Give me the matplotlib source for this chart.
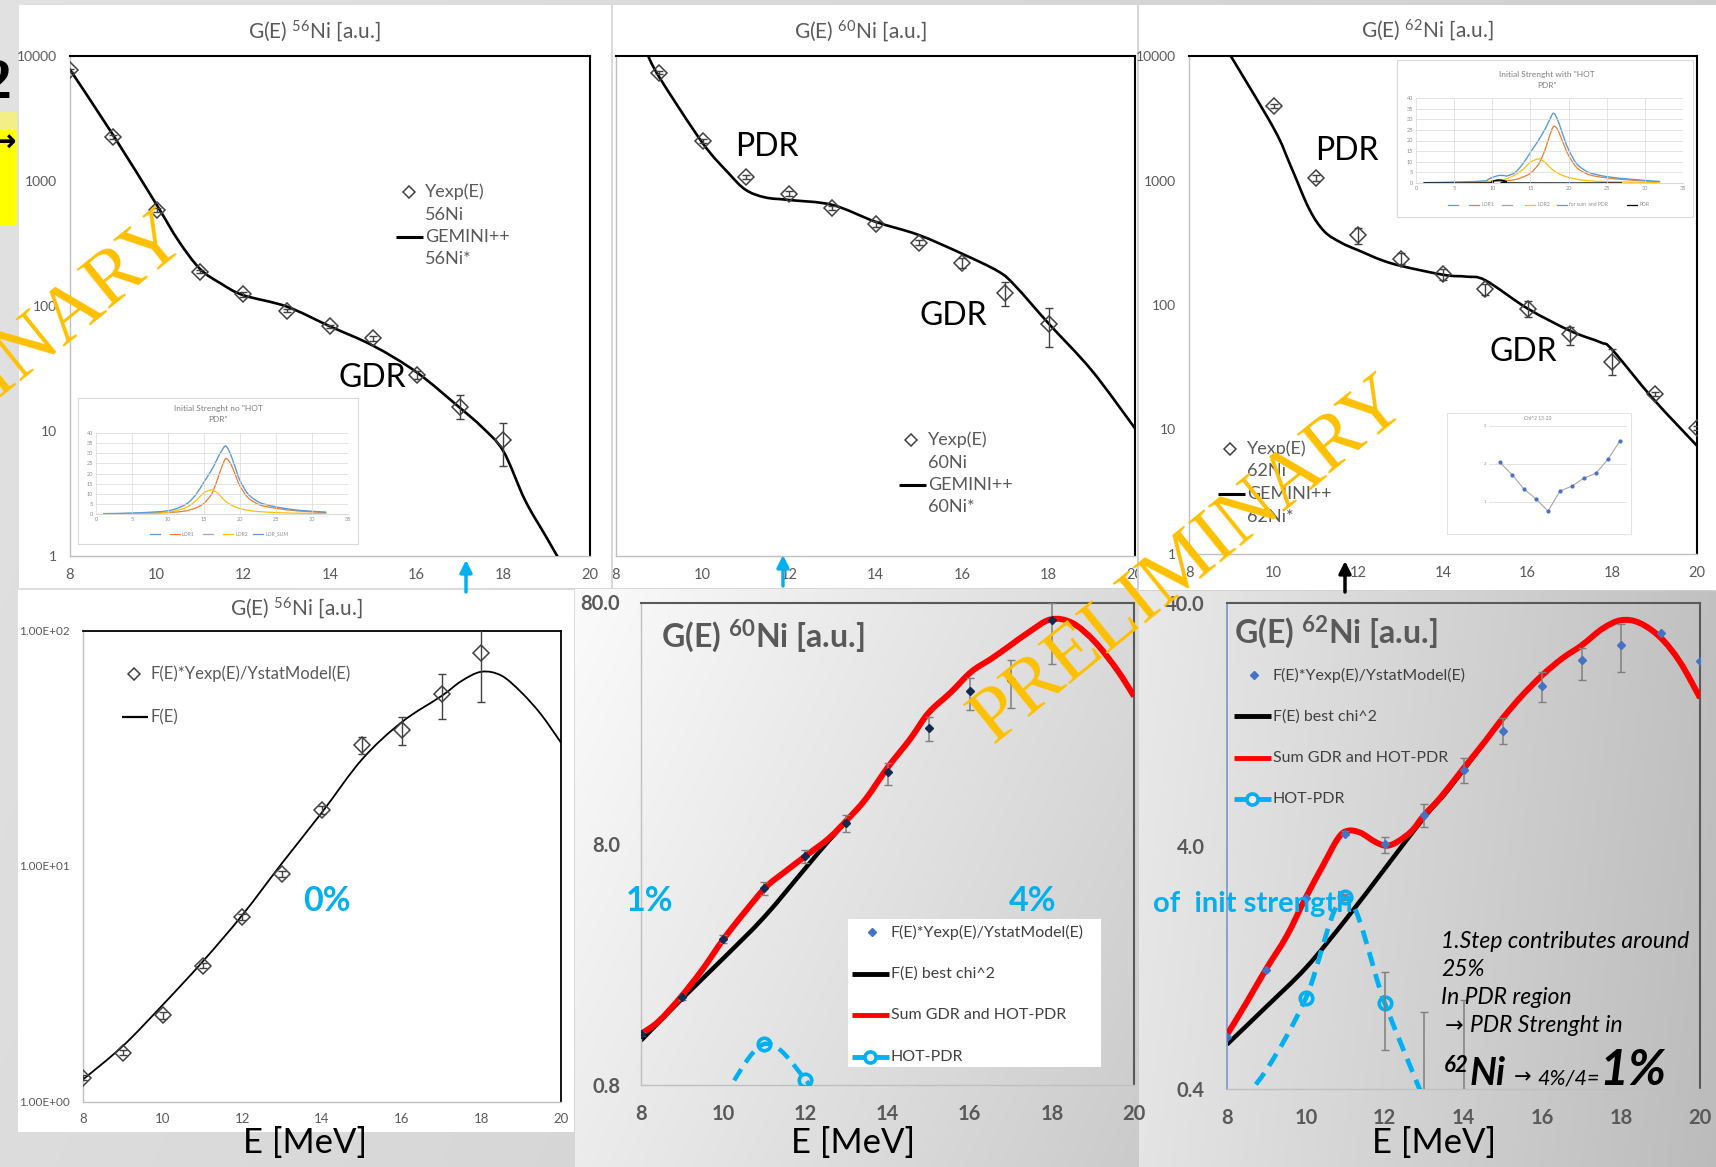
import numpy as np
import matplotlib
matplotlib.use("Agg")
import matplotlib.pyplot as plt
from matplotlib.path import Path
from matplotlib.patches import PathPatch, Rectangle
from matplotlib.ticker import NullLocator
from matplotlib.transforms import Bbox, TransformedBbox

plt.rcParams['font.family'] = ['Lato', 'DejaVu Sans']
plt.rcParams['mathtext.fontset'] = 'custom'
plt.rcParams['mathtext.rm'] = 'Lato'
plt.rcParams['mathtext.it'] = 'Lato:italic'
plt.rcParams['mathtext.bf'] = 'Lato:bold'

W, H = 1716, 1167
GREY = '#595959'
CYAN = '#00B0F0'
BLUE = '#4472C4'
ORANGE = '#ED7D31'
GOLD = '#FFC000'
SKY = '#5B9BD5'

# ---------------- 56Ni : measured yield and GEMINI++ ----------------
E_exp56 = [8, 9, 10, 11, 12, 13, 14, 15, 16, 17, 18]
Yexp56 = [7700, 2240, 590, 188, 124, 92, 68.7, 55, 28, 15.5, 8.5]
Yexp56_lo = [7500, 2150, 570, 182, 119, 89, 66.5, 52.5, 26, 12.4, 5.25]
Yexp56_hi = [7900, 2330, 610, 194, 129, 95, 71, 57.5, 30, 19.3, 11.6]
E_gem56 = [8, 9, 10, 10.5, 11, 11.5, 12, 13, 14, 15, 16, 17, 17.5, 18, 18.5, 19, 19.5]
gem56 = [7780, 2317, 644, 334, 198, 150, 122, 99, 68.7, 48, 29.5, 15.3, 10.8, 6.9, 2.8, 1.4, 0.7]

# ---------------- 60Ni : measured yield and GEMINI++ ----------------
E_exp60 = [9, 10, 11, 12, 13, 14, 15, 16, 17, 18]
Yexp60 = [7370, 2090, 1075, 793, 609, 452, 322, 220, 126, 72]
Yexp60_lo = [7150, 2000, 1030, 760, 585, 430, 305, 200, 99.5, 47.2]
Yexp60_hi = [7600, 2180, 1120, 826, 633, 475, 340, 240, 156, 95.6]
E_gem60 = [8.7, 9, 10, 10.6, 11, 11.45, 12, 13, 14, 15, 16, 16.84, 17.23, 18, 19, 20]
gem60 = [10800, 6780, 2018, 1158, 849, 739, 705, 644, 472, 370, 262, 189, 145, 72.6, 30.5, 10.5]

# ---------------- 62Ni : measured yield and GEMINI++ ----------------
E_exp62 = [10, 11, 12, 13, 14, 15, 16, 17, 18, 19, 20]
Yexp62 = [4000, 1052, 363, 236, 177, 134, 93.5, 58, 35, 19.3, 10.3]
Yexp62_lo = [3850, 1000, 309, 212, 160, 121, 80, 47.3, 27.2, 18.5, 9.9]
Yexp62_hi = [4150, 1100, 417, 262, 195, 148, 107, 67, 44.2, 20.1, 10.7]
E_gem62 = [8.9, 10, 10.4, 10.84, 11.2, 11.6, 12, 12.78, 14, 14.55, 15, 16, 17.02, 17.73, 18, 18.96, 20]
gem62 = [11200, 2630, 1313, 590, 389, 316, 275, 216, 175, 169, 158, 93.6, 61.7, 50, 43.6, 17.7, 7.4]

# ---------------- G(E) 56Ni ----------------
E_G56 = [8, 9, 10, 11, 12, 13, 14, 15, 16, 17, 18]
G56 = [1.26, 1.61, 2.32, 3.78, 6.08, 9.27, 17.3, 32.5, 37.9, 53.7, 80.3]
G56_lo = [1.23, 1.57, 2.25, 3.68, 5.9, 9.0, 16.6, 29.9, 32.7, 42, 49.9]
G56_hi = [1.29, 1.65, 2.39, 3.88, 6.26, 9.55, 18.0, 35.2, 43, 65.6, 105]
E_F56 = [8, 9, 10, 11, 12, 13, 14, 15, 16, 17, 17.5, 18, 18.5, 19, 19.5, 20]
F56 = [1.24, 1.72, 2.57, 3.92, 6.19, 10.3, 16.9, 28.3, 40.8, 52.7, 61, 66.8, 64.4, 54.7, 44.0, 33.4]

# ---------------- G(E) 60Ni ----------------
E_G60 = [8, 9, 10, 11, 12, 13, 14, 15, 16, 17, 18]
G60 = [1.297, 1.84, 3.23, 5.25, 7.11, 9.78, 15.9, 24.2, 34.2, 38.2, 67.4]
G60_lo = [1.27, 1.80, 3.09, 4.92, 6.63, 8.9, 14.0, 21.4, 28.6, 29.3, 44.3]
G60_hi = [1.32, 1.88, 3.35, 5.57, 7.56, 10.5, 17.3, 26.9, 38.8, 46.0, 80.0]
E_F60 = [8, 9, 10, 11, 12, 12.5, 13.02, 13.47, 14.01, 14.55, 15.0, 15.54, 16.04, 16.53, 16.98,
         17.43, 17.97, 18.5, 19.05, 19.59, 20]
F60 = [1.22, 1.82, 2.67, 3.97, 6.32, 7.97, 10.0, 12.25, 16.6, 21.7, 27.9, 33.9, 41.3, 46.8, 53.0,
       60.1, 68.1, 65.8, 54.9, 42.0, 32.7]
E_sum60 = [8, 8.42, 8.96, 9.5, 10, 10.5, 11.04, 11.49, 12.03, 12.57, 13.02, 13.47, 14.01, 14.55,
           15.0, 15.54, 16.04, 16.53, 16.98, 17.43, 17.97, 18.5, 19.05, 19.59, 20]
sum60 = [1.30, 1.46, 1.84, 2.41, 3.2, 4.11, 5.28, 6.09, 7.16, 8.41, 10.05, 12.25, 16.6, 21.7,
         27.9, 33.9, 41.3, 46.8, 53.0, 60.1, 68.1, 65.8, 54.9, 42.0, 32.7]
E_hot60 = [10, 11, 12, 13]
hot60 = [0.70, 1.18, 0.84, 0.45]

# ---------------- G(E) 62Ni ----------------
E_G62 = [8, 9, 10, 11, 12, 13, 14, 15, 16, 17, 18, 19, 20]
G62 = [0.657, 1.236, 2.45, 4.5, 4.06, 5.37, 8.25, 11.9, 18.3, 23.2, 26.8, 30.1, 23.0]
G62_lo = [0.657, 1.236, 2.45, 4.45, 3.73, 4.78, 7.3, 10.5, 15.7, 19.2, 20.9, 30.1, 23.0]
G62_hi = [0.657, 1.236, 2.45, 4.6, 4.35, 5.95, 9.2, 13.4, 20.9, 26.2, 32.9, 30.1, 23.0]
E_F62 = [8, 9, 10, 11, 12, 13, 13.62, 14.55, 14.99, 15.48, 16.0, 16.51, 17.0, 17.53,
         18.0, 18.47, 19.0, 19.49, 20]
F62 = [0.61, 0.873, 1.26, 1.98, 3.22, 5.24, 6.84, 10.8, 13.4, 16.6, 20.2, 23.7, 26.8, 31.4,
       34.0, 33.1, 28.8, 22.9, 16.3]
E_sum62 = [8, 8.49, 8.99, 9.52, 9.99, 10.45, 10.82, 11.06, 11.38, 11.76, 12.04, 12.32, 12.69,
           12.99, 13.43, 13.99, 14.55, 14.99, 15.48, 16.0, 16.51, 17.0, 17.53, 18.0, 18.47, 19.0,
           19.49, 20]
sum62 = [0.669, 0.904, 1.245, 1.71, 2.44, 3.36, 4.31, 4.62, 4.54, 4.16, 4.01, 4.16, 4.62, 5.33,
         6.37, 8.31, 10.8, 13.4, 16.6, 20.2, 23.7, 26.8, 31.4, 34.0, 33.1, 28.8, 22.9, 16.3]
E_hot62 = [8, 9, 10, 11, 12, 13]
hot62 = [0.30, 0.48, 0.946, 2.47, 0.904, 0.36]
E_hot62_err = [11, 12, 13, 14]
hot62_mid = [2.47, 0.904, 0.36, 0.25]
hot62_lo = [2.40, 0.578, 0.2, 0.15]
hot62_hi = [2.55, 1.21, 0.83, 0.93]

# ---------------- initial strength functions (small charts) ----------------
E_str1 = [1, 6, 10, 12, 13, 14, 15, 16, 16.5, 17, 17.5, 18, 18.5, 19, 19.5, 20, 21, 22, 23, 25, 28, 32]
lor1_a = [0.05, 0.3, 0.7, 1.3, 2.0, 3.2, 5.3, 9.5, 13.5, 18.5, 23.5, 27.3, 26.0, 22.5, 18.0, 13.8,
          8.5, 5.8, 4.2, 2.8, 1.5, 0.7]
lor2_a = [0.1, 0.3, 0.9, 2.6, 4.2, 7.0, 10.5, 11.9, 11.2, 9.9, 8.0, 6.3, 5.0, 4.0, 3.3, 2.7, 1.9,
          1.4, 1.1, 0.7, 0.4, 0.2]
lorsum_a = [0.15, 0.6, 1.6, 3.9, 6.2, 10.2, 15.8, 21.4, 24.7, 28.4, 31.5, 33.6, 31.0, 26.5, 21.3,
            16.5, 10.4, 7.2, 5.3, 3.5, 1.9, 0.9]
E_str2 = [1, 6, 9, 9.5, 10, 10.5, 11, 11.5, 12, 13, 14, 15, 16, 16.5, 17, 17.5, 18, 18.5, 19, 19.5,
          20, 21, 22, 23, 25, 28, 32]
lor1_b = [0.05, 0.2, 0.4, 0.5, 0.6, 0.7, 0.8, 0.95, 1.1, 1.6, 2.8, 4.6, 8.5, 12.0, 16.5, 22.0, 26.5,
          25.5, 21.5, 17.0, 13.0, 7.5, 5.0, 3.6, 2.4, 1.4, 0.5]
lor2_b = [0.1, 0.3, 0.6, 0.8, 1.0, 1.2, 1.4, 1.6, 2.2, 3.8, 6.3, 9.8, 11.3, 10.8, 9.4, 7.6, 6.0, 4.8,
          3.9, 3.2, 2.7, 1.8, 1.3, 1.0, 0.6, 0.4, 0.2]
lorsum_b = [0.15, 0.5, 1.0, 1.8, 2.6, 3.2, 3.6, 3.5, 3.4, 5.0, 9.0, 14.4, 19.8, 22.8, 25.9, 29.6, 32.8,
            30.3, 25.4, 20.2, 15.7, 9.3, 6.3, 4.6, 3.0, 1.8, 0.7]
E_pdr = [1, 9.3, 10, 10.6, 11.2, 11.9, 12.3, 27]
pdr_b = [0, 0, 0.8, 1.3, 1.3, 0.6, 0, 0]
chi_idx = [1, 2, 3, 4, 5, 6, 7, 8, 9, 10, 11]
chi2 = [2.04, 1.72, 1.34, 1.08, 0.76, 1.29, 1.42, 1.63, 1.76, 2.13, 2.61]

E_ticks = [8, 10, 12, 14, 16, 18, 20]

fig = plt.figure(figsize=(W / 100, H / 100), dpi=100)


def add_ax(x0, y0, x1, y1, **kw):
    return fig.add_axes([x0 / W, 1 - y1 / H, (x1 - x0) / W, (y1 - y0) / H], **kw)


def smooth_curve(ax, x, y, logy=True, **kw):
    """Smoothed line through the points (cubic Bezier segments, Catmull-Rom tangents)."""
    x = np.asarray(x, float)
    t = np.log10(np.asarray(y, float)) if logy else np.asarray(y, float)
    n = len(x)
    verts = [(x[0], t[0])]
    codes = [Path.MOVETO]
    for i in range(n - 1):
        im, ip = max(i - 1, 0), min(i + 2, n - 1)
        verts.append((x[i] + (x[i + 1] - x[im]) / 6, t[i] + (t[i + 1] - t[im]) / 6))
        verts.append((x[i + 1] - (x[ip] - x[i]) / 6, t[i + 1] - (t[ip] - t[i]) / 6))
        verts.append((x[i + 1], t[i + 1]))
        codes += [Path.CURVE4] * 3
    v = np.array(verts)
    if logy:
        v[:, 1] = 10 ** v[:, 1]
    p = PathPatch(Path(v, codes), fill=False, **kw)
    ax.add_patch(p)
    return p


def frame(ax, ylim, yticks, ylabels, xfs, yfs, xpad, ypad, box='black', box_lw=1.5, bold=False):
    ax.set_yscale('log')
    ax.set_xlim(8, 20)
    ax.set_ylim(*ylim)
    ax.set_xticks(E_ticks)
    ax.set_yticks(yticks, labels=ylabels)
    ax.yaxis.set_minor_locator(NullLocator())
    ax.set_facecolor('none')
    ax.tick_params(length=0, labelcolor=GREY)
    ax.tick_params(axis='x', labelsize=xfs, pad=xpad)
    ax.tick_params(axis='y', labelsize=yfs, pad=ypad)
    for s in ('top', 'right'):
        ax.spines[s].set_color(box)
        ax.spines[s].set_linewidth(box_lw)
    for s in ('left', 'bottom'):
        ax.spines[s].set_color('#bfbfbf')
        ax.spines[s].set_linewidth(1.0)
    if bold:
        for lab in ax.get_xticklabels() + ax.get_yticklabels():
            lab.set_fontweight('bold')


def bounded_errorbar(ax, x, y, lo, hi, **kw):
    x, y, lo, hi = map(np.asarray, (x, y, lo, hi))
    m = hi > lo
    ax.errorbar(x[m], y[m], yerr=[y[m] - lo[m], hi[m] - y[m]], fmt='none', **kw)


# ---------------- slide background ----------------
bg = fig.add_axes([0, 0, 1, 1], zorder=-10)
Xg, Yg = np.meshgrid(np.arange(W) + 0.5, np.arange(H) + 0.5)
g = 0.885 - 0.07 * Xg / W - 0.02 * Yg / H
m5 = (Xg >= 575) & (Xg < 1139) & (Yg >= 589)
g = np.where(m5, 0.985 - 0.13 * (Xg - 575) / 564 - 0.06 * (Yg - 589) / 578, g)
m6 = (Xg >= 1139) & (Yg >= 591)
g = np.where(m6, 0.915 - 0.16 * (Xg - 1139) / 577 - 0.02 * (Yg - 591) / 576, g)
bg.imshow(np.dstack([g, g, g]), extent=(0, W, H, 0), aspect='auto', interpolation='bilinear')
bg.set_xlim(0, W)
bg.set_ylim(H, 0)
bg.axis('off')
for (x0, y0, x1, y1) in [(19, 5, 611, 588), (613, 5, 1137, 588), (1139, 5, 1716, 590), (18, 590, 574, 1132)]:
    bg.add_patch(Rectangle((x0, y0), x1 - x0, y1 - y0, fc='white', ec='none', zorder=2))
bg.add_patch(Rectangle((0, 112), 17, 113, fc='#FFFF00', ec='none', zorder=2))
bg.add_patch(Rectangle((0, 112), 17, 18, fc='#F3EF86', ec='none', zorder=3))
bg.text(11, 84, '2', ha='right', va='center', fontsize=40, fontweight='bold',
        family=['Liberation Serif', 'DejaVu Serif'], color='black', zorder=4)
bg.text(16, 143, '\u2192', ha='right', va='center', fontsize=22, fontweight='bold',
        family='DejaVu Sans', color='black', zorder=4)

# ---------------- top row: yields ----------------
yt_top = [1, 10, 100, 1000, 10000]
yl_top = ['1', '10', '100', '1000', '10000']

ax1 = add_ax(70, 56, 590, 556)
frame(ax1, (1, 10000), yt_top, yl_top, 10.5, 10, 8.3, 9.4)
smooth_curve(ax1, E_gem56, gem56, ec='black', lw=1.9, zorder=3, capstyle='round')
ax1.plot(E_exp56, Yexp56, ls='none', marker='D', ms=8, mfc='none', mec='#404040', mew=1.1, zorder=4)
bounded_errorbar(ax1, E_exp56, Yexp56, Yexp56_lo, Yexp56_hi, ecolor='#404040', elinewidth=1,
                 capsize=3, zorder=4)

ax2 = add_ax(616, 56, 1135, 556)
frame(ax2, (1, 10000), [], [], 10.5, 10, 8.3, 9.4)
smooth_curve(ax2, E_gem60, gem60, ec='black', lw=1.9, zorder=3, capstyle='round')
ax2.plot(E_exp60, Yexp60, ls='none', marker='D', ms=8, mfc='none', mec='#404040', mew=1.1, zorder=4)
bounded_errorbar(ax2, E_exp60, Yexp60, Yexp60_lo, Yexp60_hi, ecolor='#404040', elinewidth=1,
                 capsize=3, zorder=4)
clipbox = TransformedBbox(Bbox([[613 / W, 0], [1137 / W, 1]]), fig.transFigure)
for lab in ax2.get_xticklabels():
    lab.set_clip_box(clipbox)
    lab.set_clip_on(True)

ax3 = add_ax(1189, 56, 1697, 554)
frame(ax3, (1, 10000), yt_top, yl_top, 10.5, 10, 8.3, 9.4)
smooth_curve(ax3, E_gem62, gem62, ec='black', lw=1.9, zorder=3, capstyle='round')
ax3.plot(E_exp62, Yexp62, ls='none', marker='D', ms=8, mfc='none', mec='#404040', mew=1.1, zorder=4)
bounded_errorbar(ax3, E_exp62, Yexp62, Yexp62_lo, Yexp62_hi, ecolor='#404040', elinewidth=1,
                 capsize=3, zorder=4)

# ---------------- bottom row: G(E) ----------------
ax4 = add_ax(83, 630.5, 561, 1101.5)
frame(ax4, (1, 100), [1, 10, 100], ['1.00E+00', '1.00E+01', '1.00E+02'], 9.5, 8.5, 8, 9.4,
      box='black', box_lw=1.3)
smooth_curve(ax4, E_F56, F56, ec='black', lw=1.3, zorder=3)
ax4.plot(E_G56, G56, ls='none', marker='D', ms=8, mfc='none', mec='#404040', mew=1.1, zorder=4)
bounded_errorbar(ax4, E_G56, G56, G56_lo, G56_hi, ecolor='#404040', elinewidth=1, capsize=3, zorder=4)

ax5 = add_ax(641, 602.5, 1134, 1084.7)
frame(ax5, (0.8, 80), [0.8, 8, 80], ['0.8', '8.0', '80.0'], 14.5, 14.5, 14, 15,
      box='#595959', box_lw=1.5, bold=True)
smooth_curve(ax5, E_F60, F60, ec='black', lw=3.2, zorder=2)
smooth_curve(ax5, E_sum60, sum60, ec='#FF0000', lw=4.3, zorder=3)
smooth_curve(ax5, E_hot60, hot60, ec=CYAN, lw=3.2, zorder=3, linestyle=(0, (3.0, 1.8)), capstyle='butt')
ax5.plot(E_hot60, hot60, ls='none', marker='o', ms=9, mfc='none', mec=CYAN, mew=2.6, zorder=3)
bounded_errorbar(ax5, E_G60, G60, G60_lo, G60_hi, ecolor='#7f7f7f', elinewidth=1.1, capsize=3, zorder=4)
ax5.plot(E_G60, G60, ls='none', marker='D', ms=4, mfc='#132a4e', mec='#132a4e', zorder=5)

ax6 = add_ax(1227, 603, 1700, 1089)
frame(ax6, (0.4, 40), [0.4, 4, 40], ['0.4', '4.0', '40.0'], 14.5, 14.5, 14, 16,
      box='#595959', box_lw=1.5, bold=True)
ax6.spines['left'].set_color('#7f9bd6')
ax6.spines['left'].set_linewidth(1.3)
smooth_curve(ax6, E_F62, F62, ec='black', lw=3.2, zorder=2)
smooth_curve(ax6, E_sum62, sum62, ec='#FF0000', lw=4.3, zorder=3)
smooth_curve(ax6, E_hot62, hot62, ec=CYAN, lw=3.4, zorder=3, linestyle=(0, (3.0, 1.8)), capstyle='butt')
ax6.plot(E_hot62, hot62, ls='none', marker='o', ms=9, mfc='none', mec=CYAN, mew=2.6,
         markevery=[2, 3, 4], zorder=3)
bounded_errorbar(ax6, E_hot62_err, hot62_mid, hot62_lo, hot62_hi, ecolor='#7f7f7f', elinewidth=1.1,
                 capsize=3, zorder=4)
bounded_errorbar(ax6, E_G62, G62, G62_lo, G62_hi, ecolor='#7f7f7f', elinewidth=1.1, capsize=3, zorder=4)
ax6.plot(E_G62, G62, ls='none', marker='D', ms=4, mfc=BLUE, mec=BLUE, zorder=5)

# ---------------- overlay: titles, legends, annotations ----------------
ov = fig.add_axes([0, 0, 1, 1], zorder=20)
ov.set_xlim(0, W)
ov.set_ylim(H, 0)
ov.axis('off')
ov.patch.set_visible(False)


def T(x, y, s, **kw):
    kw.setdefault('va', 'center')
    kw.setdefault('ha', 'left')
    return ov.text(x, y, s, **kw)


# titles
for cx, cy, iso in [(314, 31, '56'), (860, 31, '60'), (1427, 30, '62'), (296, 608, '56')]:
    T(cx, cy, r'G(E) $^{\mathrm{%s}}$Ni [a.u.]' % iso, ha='center', fontsize=15, color=GREY)
T(661, 636, r'G(E) $^{\mathbf{60}}$Ni [a.u.]', fontsize=23, fontweight='bold', color=GREY)
T(1234, 632, r'G(E) $^{\mathbf{62}}$Ni [a.u.]', fontsize=23, fontweight='bold', color=GREY)

# top-row legends
for (mx, my, lx, iso) in [(409, 192, 425, '56'), (911, 440, 928, '60'), (1230, 449, 1247, '62')]:
    ov.plot([mx], [my], ls='none', marker='D', ms=6, mfc='none', mec='#404040', mew=1.1)
    step = 22.5
    T(lx, my, 'Yexp(E)', fontsize=13, color=GREY)
    T(lx, my + step, iso + 'Ni', fontsize=13, color=GREY)
    T(lx, my + 2 * step, 'GEMINI++', fontsize=13, color=GREY)
    T(lx, my + 3 * step, iso + 'Ni*', fontsize=13, color=GREY)
    ov.plot([lx - 29, lx - 2], [my + 2 * step] * 2, color='black', lw=2.2, solid_capstyle='butt')

# PDR / GDR labels
for x, y, s in [(372, 378, 'GDR'), (767, 147, 'PDR'), (953, 316, 'GDR'), (1347, 151, 'PDR'),
                (1523, 352, 'GDR')]:
    T(x, y, s, ha='center', fontsize=23, color='black')

# bottom-left legend
ov.plot([134], [674], ls='none', marker='D', ms=6, mfc='none', mec='#404040', mew=1.1)
T(150, 674, 'F(E)*Yexp(E)/YstatModel(E)', fontsize=12, color=GREY)
ov.plot([122, 148], [717, 717], color='black', lw=1.6, solid_capstyle='butt')
T(150, 717, 'F(E)', fontsize=12, color=GREY)

# bottom-middle and bottom-right legends
ov.add_patch(Rectangle((848, 919), 253, 148, fc='white', ec='none'))
for (lx, ly0, step) in [(852, 932, 41.7), (1234, 675, 41.3)]:
    ov.plot([lx + 20], [ly0], ls='none', marker='D', ms=4.5, mfc=BLUE, mec=BLUE)
    T(lx + 39, ly0, 'F(E)*Yexp(E)/YstatModel(E)', fontsize=11.5, color='#404040')
    ov.plot([lx, lx + 37], [ly0 + step] * 2, color='black', lw=3.5, solid_capstyle='butt')
    T(lx + 39, ly0 + step, 'F(E) best chi^2', fontsize=11.5, color='#404040')
    ov.plot([lx, lx + 37], [ly0 + 2 * step] * 2, color='#FF0000', lw=3.5, solid_capstyle='butt')
    T(lx + 39, ly0 + 2 * step, 'Sum GDR and HOT-PDR', fontsize=11.5, color='#404040')
    ov.plot([lx, lx + 37], [ly0 + 3 * step] * 2, color=CYAN, lw=3.5, solid_capstyle='butt')
    ov.plot([lx + 18], [ly0 + 3 * step], ls='none', marker='o', ms=8, mfc='#eeeeee', mec=CYAN, mew=2.6)
    T(lx + 39, ly0 + 3 * step, 'HOT-PDR', fontsize=11.5, color='#404040')

# percentages
for x, s in [(327, '0%'), (650, '1%'), (1033, '4%')]:
    T(x, 901, s, ha='center', fontsize=24.5, fontweight='bold', color=CYAN)
T(1153, 904, 'of  init strength', fontsize=21, fontweight='bold', color=CYAN, zorder=5)

# remark in the 62Ni panel
for y, s in [(941, '1.Step contributes around'), (969, '25%'), (997, 'In PDR region')]:
    T(1441, y, s, fontsize=16.5, style='italic', color='black')
T(1445, 1026, '\u2192', fontsize=16, color='black', family=['DejaVu Sans'])
T(1470, 1026, 'PDR Strenght in', fontsize=16.5, style='italic', color='black')
T(1444, 1066, '62', fontsize=16, fontweight='bold', style='italic', color='black')
T(1470, 1085, 'Ni', va='baseline', fontsize=27, fontweight='bold', style='italic', color='black')
T(1514, 1077, '\u2192', fontsize=15, color='black', family=['DejaVu Sans'])
T(1537, 1085, '4%/4=', va='baseline', fontsize=15.5, style='italic', color='black')
T(1599, 1085, '1%', va='baseline', fontsize=36, fontweight='bold', style='italic', color='black')

# axis titles
for x in (305, 853, 1434):
    T(x, 1143, 'E [MeV]', ha='center', fontsize=25, color='black')

# energy markers under the top panels
for x, y0, y1, col in [(466, 592, 560, CYAN), (783, 586, 555, CYAN), (1345, 592, 561, 'black')]:
    ov.annotate('', xy=(x, y1), xytext=(x, y0),
                arrowprops=dict(arrowstyle='-|>', color=col, lw=2.5, mutation_scale=18,
                                shrinkA=0, shrinkB=0))


# ---------------- small strength charts ----------------
def inset(x0, y0, x1, y1, xlim, ylim, xt, yt, fs=4):
    a = add_ax(x0, y0, x1, y1, zorder=25)
    a.set_facecolor('none')
    a.set_xlim(*xlim)
    a.set_ylim(*ylim)
    a.set_xticks(xt)
    a.set_yticks(yt)
    a.grid(True, color='#d9d9d9', lw=0.5)
    a.tick_params(length=0, labelsize=fs, labelcolor='#8c8c8c', pad=2)
    for s in a.spines.values():
        s.set_visible(False)
    a.spines['bottom'].set_visible(True)
    a.spines['bottom'].set_color('#d9d9d9')
    return a


def tiny_legend(y, items):
    for x, col, lab in items:
        ov.plot([x, x + 10], [y, y], color=col, lw=0.9)
        if lab:
            T(x + 12, y, lab, fontsize=3.6, color='#8c8c8c')


ov.add_patch(Rectangle((78, 398), 280, 146, fc='white', ec='#d9d9d9', lw=0.8))
T(218, 409, 'Initial Strenght no "HOT', ha='center', fontsize=6, color='#7f7f7f')
T(218, 419, 'PDR"', ha='center', fontsize=6, color='#7f7f7f')
ia = inset(96, 433, 348, 514, (0, 35), (0, 40), range(0, 36, 5), range(0, 41, 5))
smooth_curve(ia, E_str1, lor1_a, logy=False, ec=ORANGE, lw=0.9)
smooth_curve(ia, E_str1, lor2_a, logy=False, ec=GOLD, lw=0.9)
smooth_curve(ia, E_str1, lorsum_a, logy=False, ec=SKY, lw=1.0)
tiny_legend(534, [(150, SKY, ''), (170, ORANGE, 'LOR1'), (203, '#A5A5A5', ''), (223, GOLD, 'LOR2'),
                  (253, SKY, 'LOR_SUM')])

ov.add_patch(Rectangle((1397, 60), 296, 157, fc='white', ec='#d9d9d9', lw=0.8))
T(1547, 74, 'Initial Strenght with "HOT', ha='center', fontsize=6, color='#7f7f7f')
T(1547, 85, 'PDR"', ha='center', fontsize=6, color='#7f7f7f')
ib = inset(1416, 98, 1683, 183, (0, 35), (0, 40), range(0, 36, 5), range(0, 41, 5))
smooth_curve(ib, E_str2, lor1_b, logy=False, ec=ORANGE, lw=0.9)
smooth_curve(ib, E_str2, lor2_b, logy=False, ec=GOLD, lw=0.9)
smooth_curve(ib, E_str2, lorsum_b, logy=False, ec=SKY, lw=1.0)
smooth_curve(ib, E_pdr, pdr_b, logy=False, ec='black', lw=1.1)
tiny_legend(205, [(1448, SKY, ''), (1469, ORANGE, 'LOR1'), (1502, '#A5A5A5', ''), (1525, GOLD, 'LOR2'),
                  (1557, SKY, 'for sum  and PDR'), (1627, 'black', 'PDR')])

ov.add_patch(Rectangle((1447, 413), 184, 121, fc='white', ec='#e3e3e3', lw=0.8))
T(1538, 419, 'Chi^2 13-20', ha='center', fontsize=3.5, color='#8c8c8c')
ic = inset(1489, 426, 1627, 521, (0.08, 11.58), (0.5, 3.0), [], [1, 2, 3], fs=3)
ic.spines['bottom'].set_visible(False)
ic.plot(chi_idx, chi2, color='#a5a5a5', lw=0.8, marker='o', ms=2, mfc=BLUE, mec=BLUE)

# ---------------- watermark ----------------
wm = fig.add_axes([0, 0, 1, 1], zorder=40)
wm.set_xlim(0, W)
wm.set_ylim(H, 0)
wm.axis('off')
wm.patch.set_visible(False)
for cx, cy in [(1190, 561), (-30, 396)]:
    wm.text(cx, cy, 'PRELIMINARY', rotation=39, rotation_mode='anchor', ha='center', va='center',
            fontsize=57, family=['Liberation Serif', 'DejaVu Serif'], color=GOLD)

fig.savefig('out.png', dpi=100)
